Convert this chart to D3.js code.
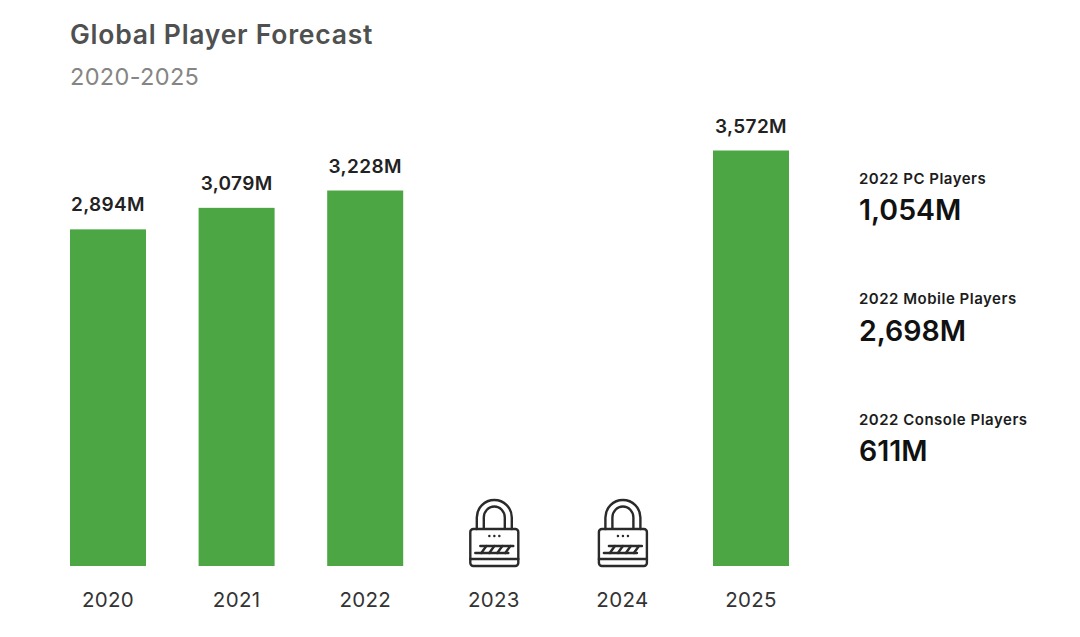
<!DOCTYPE html>
<html><head><meta charset="utf-8">
<script src="https://cdn.jsdelivr.net/npm/d3@7/dist/d3.min.js"></script>
<style>html,body{margin:0;padding:0;background:#fff}svg{display:block}text{font-family:Inter,"Noto Sans",sans-serif}</style>
</head><body><svg id="c" width="1080" height="637"></svg>
<script>
const years=["2020","2021","2022","2023","2024","2025"];
const players=[2894,3079,3228,null,null,3572];
const barLabels=["2,894M","3,079M","3,228M",null,null,"3,572M"];
const sideLabels=["2022 PC Players","2022 Mobile Players","2022 Console Players"];
const sideValues=["1,054M","2,698M","611M"];
const svg=d3.select("#c");
const x=d3.scaleBand().domain(years).range([70,789]).paddingInner(0.409).paddingOuter(0);
const y=d3.scaleLinear().domain([0,3572]).range([566,150.5]);
svg.append("text").attr("x",70).attr("y",44).attr("fill","#4f5050").attr("font-size",26.5).attr("font-weight",600).attr("letter-spacing",0.75).text("Global Player Forecast");
svg.append("text").attr("x",70).attr("y",85).attr("fill","#858585").attr("font-size",23.5).attr("font-weight",400).attr("letter-spacing",0.35).text("2020-2025");
const withData=years.map((d,i)=>({year:d,v:players[i],label:barLabels[i]}));
const bars=withData.filter(d=>d.v!=null);
svg.selectAll("rect.bar").data(bars).join("rect").attr("class","bar")
 .attr("x",d=>x(d.year)).attr("width",x.bandwidth()).attr("y",d=>y(d.v)).attr("height",d=>y(0)-y(d.v)).attr("fill","#4ca644");
svg.selectAll("text.val").data(bars).join("text").attr("class","val")
 .attr("x",d=>x(d.year)+x.bandwidth()/2).attr("y",d=>y(d.v)-18).attr("text-anchor","middle")
 .attr("font-size",19).attr("font-weight",600).attr("letter-spacing",0.35).attr("fill","#222").text(d=>d.label);
const axis=d3.axisBottom(x).tickSize(0).tickPadding(0);
const ax=svg.append("g").attr("transform","translate(0,607)").call(axis);
ax.select(".domain").remove();
ax.selectAll("text").attr("dy",0).attr("y",0).attr("font-size",20.5).attr("letter-spacing",0.3).attr("font-family","Inter").attr("fill","#333");
const locks=withData.filter(d=>d.v==null);
const g=svg.selectAll("g.lock").data(locks).join("g").attr("class","lock")
 .attr("transform",d=>`translate(${x(d.year)+x.bandwidth()/2+0.5},0)`)
 .attr("fill","none").attr("stroke","#2a2a2a").attr("stroke-width",2.4).attr("stroke-linecap","round").attr("stroke-linejoin","round");
g.append("rect").attr("x",-24).attr("y",529).attr("width",48).attr("height",37).attr("rx",3);
g.append("path").attr("d","M-17.5 529V517.5A17.5 17.5 0 0 1 17.5 517.5V529");
g.append("path").attr("d","M-10.5 528V517.5A10.5 11 0 0 1 10.5 517.5V528");
g.append("line").attr("x1",-24).attr("x2",24).attr("y1",559).attr("y2",559);
g.append("line").attr("x1",-14).attr("x2",19).attr("y1",546).attr("y2",546);
g.append("line").attr("x1",-19).attr("x2",14).attr("y1",553).attr("y2",553);
g.append("path").attr("d","M-8 546L-13 553M0 546L-5 553M8 546L3 553M16 546L11 553");
g.append("path").attr("d","M-5 536h0.1M0 536h0.1M5 536h0.1");
const side=svg.selectAll("g.side").data(sideLabels).join("g").attr("class","side")
 .attr("transform",(d,i)=>`translate(859,${183.5+i*120.5})`);
side.append("text").attr("y",0).attr("font-size",15).attr("font-weight",600).attr("letter-spacing",0.5).attr("fill","#1c1c1c").text(d=>d);
side.append("text").attr("y",36.5).attr("font-size",28.5).attr("font-weight",600).attr("letter-spacing",0).attr("fill","#111").text((d,i)=>sideValues[i]);
</script></body></html>
